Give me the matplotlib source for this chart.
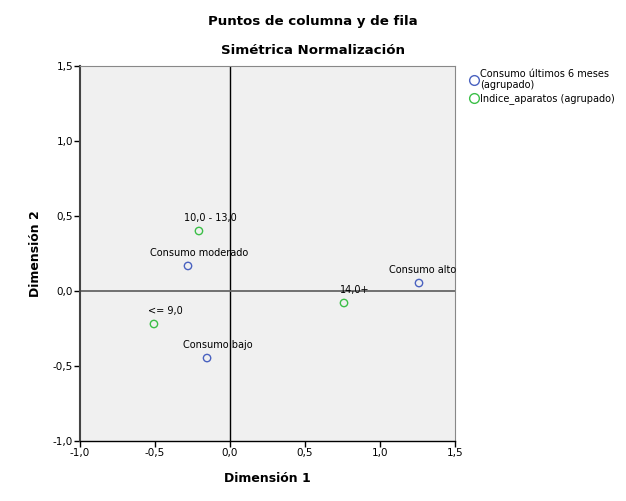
import matplotlib.pyplot as plt
from matplotlib.lines import Line2D

# Coordenadas de fila (Consumo últimos 6 meses)
filas = ['Consumo moderado', 'Consumo alto', 'Consumo bajo']
filas_x = [-0.28, 1.26, -0.153]
filas_y = [0.167, 0.053, -0.447]

# Coordenadas de columna (Indice_aparatos)
columnas = ['10,0 - 13,0', '14,0+', '<= 9,0']
columnas_x = [-0.207, 0.76, -0.507]
columnas_y = [0.40, -0.08, -0.22]

ticks = [-1.0, -0.5, 0.0, 0.5, 1.0, 1.5]
tick_labels = ['-1,0', '-0,5', '0,0', '0,5', '1,0', '1,5']

azul = '#4a62c0'
verde = '#3cbf48'

fig = plt.figure(figsize=(6.26, 5.01), dpi=100)
ax = fig.add_axes([80 / 626, 1 - 441 / 501, 375 / 626, 375 / 501])
ax.set_facecolor('#f0f0f0')

ax.axvline(0, color='black', lw=1.0, zorder=1)
ax.axhline(0, color='#666666', lw=1.3, zorder=1)

ax.scatter(filas_x, filas_y, s=28, facecolors='none', edgecolors=azul, linewidths=1.0, zorder=3)
ax.scatter(columnas_x, columnas_y, s=28, facecolors='none', edgecolors=verde, linewidths=1.0, zorder=3)

# etiquetas un poco a la derecha del punto; "Consumo alto" pegada al borde derecho
desplaz = {'Consumo alto': (2.5, 6)}
for nombre, x, y in zip(filas + columnas, filas_x + columnas_x, filas_y + columnas_y):
    ax.annotate(nombre, (x, y), xytext=desplaz.get(nombre, (8, 6)), textcoords='offset points',
                ha='center', va='bottom', fontsize=7)

ax.set_xlim(-1.0, 1.5)
ax.set_ylim(-1.0, 1.5)
ax.set_xticks(ticks)
ax.set_xticklabels(tick_labels, fontsize=7.5)
ax.set_yticks(ticks)
ax.set_yticklabels(tick_labels, fontsize=7.5)
ax.tick_params(length=4, width=1, pad=1)

for lado in ['top', 'right']:
    ax.spines[lado].set_color('#888888')
    ax.spines[lado].set_linewidth(0.8)
ax.spines['left'].set_color('#444444')
ax.spines['left'].set_linewidth(1.5)
ax.spines['bottom'].set_color('black')
ax.spines['bottom'].set_linewidth(1.0)

ax.set_xlabel('Dimensión 1', fontsize=9, fontweight='bold', labelpad=10)
ax.set_ylabel('Dimensión 2', fontsize=9, fontweight='bold', labelpad=8)

fig.text(313 / 626, 1 - 22 / 501, 'Puntos de columna y de fila', ha='center', va='center',
         fontsize=9.6, fontweight='bold')
fig.text(313 / 626, 1 - 51 / 501, 'Simétrica Normalización', ha='center', va='center',
         fontsize=9.6, fontweight='bold')

handles = [
    Line2D([], [], marker='o', ls='none', markerfacecolor='none', markeredgecolor=azul, markersize=7),
    Line2D([], [], marker='o', ls='none', markerfacecolor='none', markeredgecolor=verde, markersize=7),
]
fig.legend(handles, ['Consumo últimos 6 meses\n(agrupado)', 'Indice_aparatos (agrupado)'],
           loc='upper left', bbox_to_anchor=(463 / 626, 1 - 64 / 501), frameon=False,
           fontsize=7, handletextpad=0.1, borderpad=0, labelspacing=0.3, handlelength=1.2)

fig.savefig('out.png', dpi=100)
